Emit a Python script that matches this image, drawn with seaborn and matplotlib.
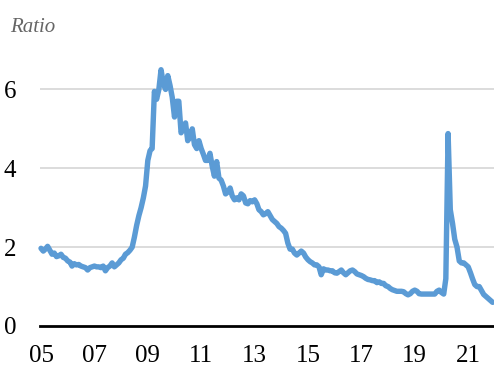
import numpy as np
import pandas as pd
import seaborn as sns
import matplotlib.pyplot as plt
import matplotlib.dates as mdates

# monthly ratio, Jan 2005 - Dec 2021
ratio_2005 = [1.97, 1.90, 1.95, 2.02, 1.92, 1.82, 1.85, 1.76, 1.78, 1.82, 1.74, 1.72]
ratio_2006 = [1.65, 1.62, 1.52, 1.58, 1.55, 1.56, 1.52, 1.50, 1.48, 1.42, 1.48, 1.50]
ratio_2007 = [1.52, 1.50, 1.50, 1.48, 1.52, 1.40, 1.48, 1.52, 1.60, 1.50, 1.55, 1.60]
ratio_2008 = [1.68, 1.72, 1.82, 1.86, 1.92, 2.00, 2.25, 2.55, 2.80, 3.00, 3.25, 3.55]
ratio_2009 = [4.20, 4.45, 4.50, 5.95, 5.75, 6.00, 6.50, 6.15, 6.00, 6.35, 6.10, 5.80]
ratio_2010 = [5.30, 5.70, 5.70, 4.90, 5.00, 5.15, 4.70, 4.80, 5.00, 4.60, 4.50, 4.70]
ratio_2011 = [4.50, 4.35, 4.20, 4.20, 4.38, 4.05, 3.80, 4.17, 3.75, 3.70, 3.55, 3.35]
ratio_2012 = [3.40, 3.50, 3.30, 3.20, 3.25, 3.20, 3.35, 3.30, 3.12, 3.10, 3.18, 3.15]
ratio_2013 = [3.20, 3.10, 2.95, 2.90, 2.82, 2.85, 2.90, 2.80, 2.70, 2.65, 2.60, 2.52]
ratio_2014 = [2.48, 2.42, 2.35, 2.10, 1.95, 1.95, 1.85, 1.80, 1.85, 1.90, 1.85, 1.75]
ratio_2015 = [1.68, 1.63, 1.60, 1.55, 1.55, 1.50, 1.30, 1.45, 1.42, 1.42, 1.40, 1.40]
ratio_2016 = [1.35, 1.34, 1.38, 1.42, 1.35, 1.30, 1.35, 1.40, 1.42, 1.38, 1.32, 1.30]
ratio_2017 = [1.28, 1.25, 1.21, 1.18, 1.17, 1.15, 1.15, 1.10, 1.12, 1.08, 1.08, 1.02]
ratio_2018 = [1.00, 0.95, 0.92, 0.90, 0.88, 0.88, 0.88, 0.87, 0.82, 0.79, 0.82, 0.88]
ratio_2019 = [0.91, 0.88, 0.82, 0.81, 0.81, 0.81, 0.81, 0.81, 0.81, 0.81, 0.88, 0.91]
ratio_2020 = [0.85, 0.81, 1.20, 4.88, 2.95, 2.60, 2.20, 2.00, 1.65, 1.60, 1.60, 1.55]
ratio_2021 = [1.50, 1.35, 1.20, 1.05, 1.00, 1.00, 0.90, 0.80, 0.75, 0.70, 0.65, 0.60]

ratio = (ratio_2005 + ratio_2006 + ratio_2007 + ratio_2008 + ratio_2009 + ratio_2010
         + ratio_2011 + ratio_2012 + ratio_2013 + ratio_2014 + ratio_2015 + ratio_2016
         + ratio_2017 + ratio_2018 + ratio_2019 + ratio_2020 + ratio_2021)
dates = pd.date_range('2005-01-01', periods=len(ratio), freq='MS')
df = pd.DataFrame({'date': dates, 'ratio': ratio})

tick_years = [2005, 2007, 2009, 2011, 2013, 2015, 2017, 2019, 2021]

sns.set_style('white')
plt.rcParams['font.family'] = ['Liberation Serif', 'DejaVu Serif']

fig = plt.figure(figsize=(4.94, 3.67), dpi=100)
ax = fig.add_axes([40 / 494, 41 / 367, 454 / 494, 276 / 367])

for v in [2, 4, 6]:
    ax.axhline(v, color='#d9d9d9', lw=1.3, zorder=0)

sns.lineplot(data=df, x='date', y='ratio', ax=ax, color='#5b9bd5', lw=3.9,
             solid_capstyle='round', solid_joinstyle='round', clip_on=False)

ax.set_ylim(0, 7)
ax.set_yticks([0, 2, 4, 6])
ax.set_xlim(pd.Timestamp('2004-12-18'), pd.Timestamp('2021-12-20'))
ax.set_xticks(pd.to_datetime([f'{y}-01-01' for y in tick_years]))
ax.xaxis.set_major_formatter(mdates.DateFormatter('%y'))
ax.tick_params(axis='both', length=0, labelsize=18, colors='black')
ax.tick_params(axis='x', pad=14)
ax.tick_params(axis='y', pad=17)
ax.set_xlabel('')
ax.set_ylabel('')

for s in ['top', 'right', 'left']:
    ax.spines[s].set_visible(False)
ax.spines['bottom'].set_color('black')
ax.spines['bottom'].set_linewidth(2)

fig.text(10 / 494, 1 - 27 / 367, 'Ratio', fontsize=15, style='italic',
         color='#666666', va='center', ha='left')

fig.savefig('out.png', dpi=100)
